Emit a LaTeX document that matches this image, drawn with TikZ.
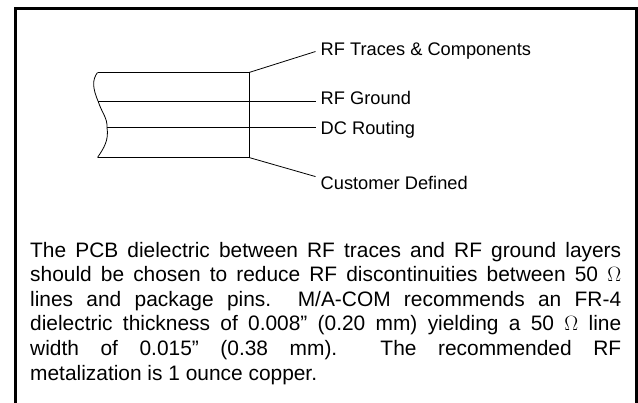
\documentclass[tikz,border=0pt]{standalone}
\usepackage{fontspec}
\setmainfont{Liberation Sans}
\usetikzlibrary{positioning}
\begin{document}
\begin{tikzpicture}[x=1pt,y=-1pt]
	\tikzset{block/.style= { rectangle, align=left, inner ysep=0pt, inner xsep=5pt, font=\fontsize{18.25}{22}\selectfont},
		para/.style={rectangle, inner sep=0pt, text width=591pt, align=justify, font=\fontsize{20.9}{24.55}\selectfont},
		frame/.style={draw, line width=3pt},
		wire/.style={draw, line width=.8pt}
	}
	\useasboundingbox (0,0) rectangle (638,403);
	\fill[white] (0,0) rectangle (638,403);
	
	\coordinate (tl) at (97.5,72.5);
	\coordinate (tr) at (249,72.5);
	\coordinate (bl) at (97.5,157.5);
	\coordinate (br) at (249,157.5);
	\coordinate (g1) at (98.3,101.8);
	\coordinate (g2) at (107,127.5);
	
	\node [block, anchor=base west] (traces) at (315.5,56) {RF Traces \& Components};
	\node [block, anchor=base west] (ground) at (315.5,105) {RF Ground};
	\node [block, anchor=base west] (routing) at (315.5,134.5) {DC Routing};
	\node [block, anchor=base west] (custom) at (315.5,190) {Customer Defined};
	\node [para, anchor=north west] (body) at (30,242) {The PCB dielectric between RF traces and RF ground layers\linebreak
		should be chosen to reduce RF discontinuities between 50 $\Omega$\linebreak
		lines and package pins.\ \ M/A-COM recommends an FR-4\linebreak
		dielectric thickness of 0.008” (0.20 mm) yielding a 50 $\Omega$ line\linebreak
		width of 0.015” (0.38 mm).\ \ The recommended RF\linebreak
		metalization is 1 ounce copper.};
	
	\draw[frame] (15.5,403) -- (15.5,8.5) -- (636.5,8.5) -- (636.5,403);
	\draw[wire] (bl) -- (br) -- (tr) -- (tl);
	\draw[wire] (tl) .. controls (92,80) and (92.5,88) .. (g1) .. controls (102,113) and (107.5,118) .. (g2) .. controls (109,140) and (104,148) .. (bl);
	\draw[wire] (tr) -- (traces.west);
	\draw[wire] (g1) -- (ground.west |- g1);
	\draw[wire] (g2) -- (routing.west |- g2);
	\draw[wire] (br) -- (custom.north west);
\end{tikzpicture}
\end{document}
